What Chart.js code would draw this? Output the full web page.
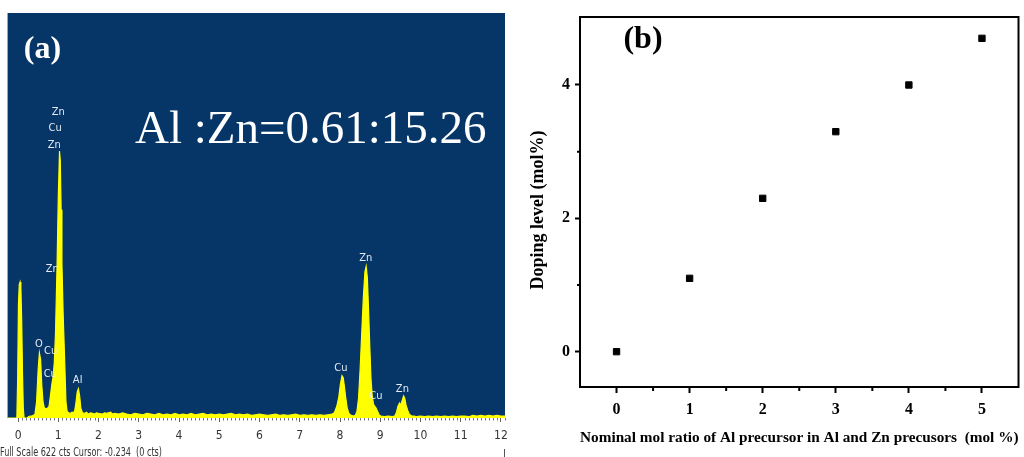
<!DOCTYPE html>
<html><head><meta charset="utf-8">
<script src="https://cdn.jsdelivr.net/npm/chart.js@4.4.1/dist/chart.umd.min.js"></script>
<style>
html,body{margin:0;padding:0;background:#fff;width:1024px;height:457px;overflow:hidden}
canvas{position:absolute;top:0}
#ca{left:0}#cb{left:512px}
</style></head>
<body>
<canvas id="ca" width="512" height="457"></canvas>
<canvas id="cb" width="512" height="457"></canvas>
<script>
// ---------- Panel (a): EDS spectrum ----------
const spectrumEnergy = [
  -0.25,-0.03,-0.01,0.01,0.03,0.05,0.07,0.09,0.11,0.13,0.15,0.22,
  0.26,0.30,0.34,0.38,0.42,0.46,0.50,0.53,0.56,0.59,0.62,0.65,0.69,0.73,0.77,
  0.80,0.84,0.87,0.90,0.93,0.97,1.00,1.03,1.05,1.07,1.09,1.12,1.16,1.19,1.22,
  1.26,1.30,1.34,1.38,1.41,1.44,1.47,1.50,1.53,1.56,1.60,
  1.65,1.70,1.75,1.80,1.85,1.90,1.95,2.00,2.10,2.15,2.20,2.30,2.35,2.40,2.50,2.60,2.70,2.80,2.90,3.00,
  3.1,3.2,3.3,3.4,3.5,3.6,3.7,3.8,3.9,4.0,
  4.1,4.2,4.3,4.4,4.5,4.6,4.7,4.8,4.9,5.0,
  5.1,5.2,5.3,5.4,5.5,5.6,5.7,5.8,5.9,6.0,
  6.1,6.2,6.3,6.4,6.5,6.6,6.7,6.8,6.9,7.0,
  7.1,7.2,7.3,7.4,7.5,7.6,7.7,
  7.80,7.86,7.92,7.97,8.01,8.05,8.08,8.11,8.14,8.18,8.22,8.28,8.33,8.38,
  8.42,8.46,8.50,8.54,8.58,8.62,8.65,8.68,8.71,8.74,8.77,8.80,8.83,8.86,8.89,8.92,8.95,8.98,9.02,
  9.1,9.2,9.3,9.36,9.40,9.44,9.48,9.51,9.54,9.58,9.61,9.64,9.68,9.72,9.78,
  9.85,9.9,10.0,10.1,10.2,10.3,10.4,10.5,10.6,10.7,10.8,10.9,11.0,11.1,11.2,11.3,11.4,11.5,11.6,11.7,11.8,11.9,12.0,12.1
];
const spectrumCounts = [
  0,0,60,175,205,209,200,150,70,15,0,0,
  2,3,3,4,6,25,75,100,90,50,25,16,14,15,18,
  32,52,63,85,130,237,340,410,395,320,237,160,84,25,10,
  8,7,9,8,12,24,40,45,34,15,8,
  7,9,6,8,7,6,8,7,6,8,7,9,6,7,6,8,6,5,7,6,
  5,7,6,5,7,5,6,5,7,5,
  6,5,7,5,6,7,5,6,5,6,
  5,6,7,5,6,5,6,4,5,6,
  5,4,5,6,4,5,4,5,6,4,
  5,4,5,4,5,4,5,
  6,8,18,32,52,65,62,48,32,15,7,4,3,4,
  10,30,75,130,185,225,233,215,165,110,60,35,22,18,16,12,8,4,3,
  2,3,2,3,8,18,23,20,26,34,30,20,12,6,3,
  3,2,3,2,3,2,3,2,3,2,3,2,3,3,2,4,3,4,3,4,3,4,3,3
];
const energyTicks = [0,1,2,3,4,5,6,7,8,9,10,11,12];
const peakLabelText   = ['Zn','Cu','Zn','Zn','O','Cu','Cu','Al','Cu','Zn','Cu','Zn'];
const peakLabelEnergy = [1.00,0.92,0.90,0.85,0.52,0.81,0.80,1.48,8.02,8.64,8.89,9.55];
const peakLabelCounts = [470,445,419,229,114,103,68,58,77,246,34,45];
const energyMin = -0.25, energyMax = 12.1, countsMax = 622;

// ---------- Panel (b): doping level ----------
const nominalRatio = [0,1,2,3,4,5];
const dopingLevel  = [0,1.1,2.3,3.3,4.0,4.7];
const ratioTicks = [0,1,2,3,4,5];
const dopingTicks = [0,2,4];

const narrow = "'Liberation Sans Narrow','DejaVu Sans Condensed','Liberation Sans',sans-serif";
const serif = "'Liberation Serif','Times New Roman',serif";

function noPad(s){ s.paddingLeft=0; s.paddingRight=0; s.paddingTop=0; s.paddingBottom=0; }

const panelA = {
  id:'panelA',
  beforeDraw(chart){
    const {ctx, chartArea:a} = chart;
    ctx.save();
    ctx.fillStyle='#fff'; ctx.fillRect(0,0,chart.width,chart.height);
    ctx.fillStyle='#063567'; ctx.fillRect(a.left,a.top,a.right-a.left,a.bottom-a.top);
    ctx.strokeStyle='#9aa6b4'; ctx.lineWidth=1;
    ctx.beginPath(); ctx.moveTo(a.left-0.5,a.top); ctx.lineTo(a.left-0.5,a.bottom); ctx.stroke();
    ctx.restore();
  },
  afterDraw(chart){
    const {ctx, chartArea:a} = chart;
    const xs = chart.scales.x, ys = chart.scales.y;
    ctx.save();
    ctx.strokeStyle='#777'; ctx.lineWidth=1;
    ctx.beginPath();
    for(let i=0;i<=121;i++){
      if(i%10===0) continue;
      const px=Math.round(xs.getPixelForValue(i/10))+0.5;
      ctx.moveTo(px,a.bottom); ctx.lineTo(px,a.bottom+2.5);
    }
    ctx.stroke();
    ctx.fillStyle='#e6ebf3'; ctx.font="11px "+narrow;
    ctx.textAlign='center'; ctx.textBaseline='middle';
    peakLabelText.forEach((t,i)=>{
      ctx.fillText(t, xs.getPixelForValue(peakLabelEnergy[i]), ys.getPixelForValue(peakLabelCounts[i]));
    });
    ctx.fillStyle='#fff';
    ctx.font="bold 32px "+serif; ctx.textAlign='center'; ctx.textBaseline='middle';
    ctx.fillText('(a)',42.5,50);
    ctx.font="47px "+serif; ctx.textAlign='left'; ctx.textBaseline='alphabetic';
    ctx.fillText('Al :Zn=0.61:15.26',135,142.5);
    ctx.fillStyle='#333'; ctx.font="12px "+narrow; ctx.textBaseline='middle';
    ctx.fillText('Full Scale 622 cts Cursor: -0.234  (0 cts)',0,453,162);
    ctx.strokeStyle='#555'; ctx.beginPath(); ctx.moveTo(504.5,449); ctx.lineTo(504.5,457); ctx.stroke();
    ctx.restore();
  }
};

new Chart(document.getElementById('ca'),{
  type:'line',
  data:{datasets:[{
    data: spectrumEnergy.map((e,i)=>({x:e,y:spectrumCounts[i]})),
    borderColor:'#ffff00', backgroundColor:'#ffff00', borderWidth:1.2,
    fill:'origin', pointRadius:0, tension:0
  }]},
  options:{
    responsive:false, animation:false, devicePixelRatio:1,
    layout:{padding:{top:13,left:8,right:7,bottom:0}},
    plugins:{legend:{display:false},tooltip:{enabled:false}},
    scales:{
      x:{type:'linear',min:energyMin,max:energyMax,
        afterBuildTicks(s){ s.ticks = energyTicks.map(v=>({value:v})); },
        afterFit(s){ s.height=39; noPad(s); },
        border:{display:false},
        grid:{drawOnChartArea:false,drawTicks:true,tickLength:4,color:'#666'},
        ticks:{padding:7,color:'#333',font:{family:narrow,size:12}}},
      y:{display:false,min:0,max:countsMax}
    }
  },
  plugins:[panelA]
});

const panelB = {
  id:'panelB',
  beforeDraw(chart){
    const {ctx}=chart; ctx.save(); ctx.fillStyle='#fff'; ctx.fillRect(0,0,chart.width,chart.height); ctx.restore();
  },
  afterDraw(chart){
    const {ctx, chartArea:a} = chart;
    const xs=chart.scales.x, ys=chart.scales.y;
    ctx.save();
    ctx.strokeStyle='#000'; ctx.lineWidth=2;
    ctx.strokeRect(a.left,a.top,a.right-a.left,a.bottom-a.top);
    ctx.beginPath();
    for(let v=0.5; v<5.5; v+=1){
      const px=xs.getPixelForValue(v);
      ctx.moveTo(px,a.bottom); ctx.lineTo(px,a.bottom+4);
    }
    for(let v=1; v<5; v+=2){
      const py=ys.getPixelForValue(v);
      ctx.moveTo(a.left,py); ctx.lineTo(a.left-3,py);
    }
    ctx.stroke();
    ctx.fillStyle='#000';
    ctx.font="bold 32px "+serif; ctx.textAlign='center'; ctx.textBaseline='middle';
    ctx.fillText('(b)',131,40);
    ctx.translate(26,210); ctx.rotate(-Math.PI/2);
    ctx.font="bold 18px "+serif;
    ctx.fillText('Doping level (mol%)',0,0);
    ctx.restore();
  }
};

new Chart(document.getElementById('cb'),{
  type:'scatter',
  data:{datasets:[{
    data: nominalRatio.map((x,i)=>({x:x,y:dopingLevel[i]})),
    pointStyle:'rect', pointRadius:4.5, pointBorderWidth:1,
    pointBackgroundColor:'#000', pointBorderColor:'#000'
  }]},
  options:{
    responsive:false, animation:false, devicePixelRatio:1,
    layout:{padding:{top:17,left:0,right:0,bottom:0}},
    plugins:{legend:{display:false},tooltip:{enabled:false}},
    scales:{
      x:{type:'linear',min:-0.5,max:5.5,
        afterBuildTicks(s){ s.ticks = ratioTicks.map(v=>({value:v})); },
        afterFit(s){ s.height=70; noPad(s); },
        border:{display:true,color:'#000',width:2},
        grid:{drawOnChartArea:false,drawTicks:true,tickLength:6,tickWidth:2,tickColor:'#000'},
        ticks:{padding:7,color:'#000',font:{family:serif,size:16,weight:'bold'}},
        title:{display:true,text:'Nominal mol ratio of Al precursor in Al and Zn precusors  (mol %)',
          color:'#000',font:{family:serif,size:15.5,weight:'bold'},padding:{top:0,bottom:10}}},
      y:{type:'linear',min:-0.53,max:5.02,
        afterBuildTicks(s){ s.ticks = dopingTicks.map(v=>({value:v})); },
        afterFit(s){ s.width=68; noPad(s); },
        border:{display:true,color:'#000',width:2},
        grid:{drawOnChartArea:false,drawTicks:true,tickLength:5,tickWidth:2,tickColor:'#000'},
        ticks:{padding:5,color:'#000',font:{family:serif,size:16,weight:'bold'}}}
    }
  },
  plugins:[panelB]
});
</script>
</body></html>
